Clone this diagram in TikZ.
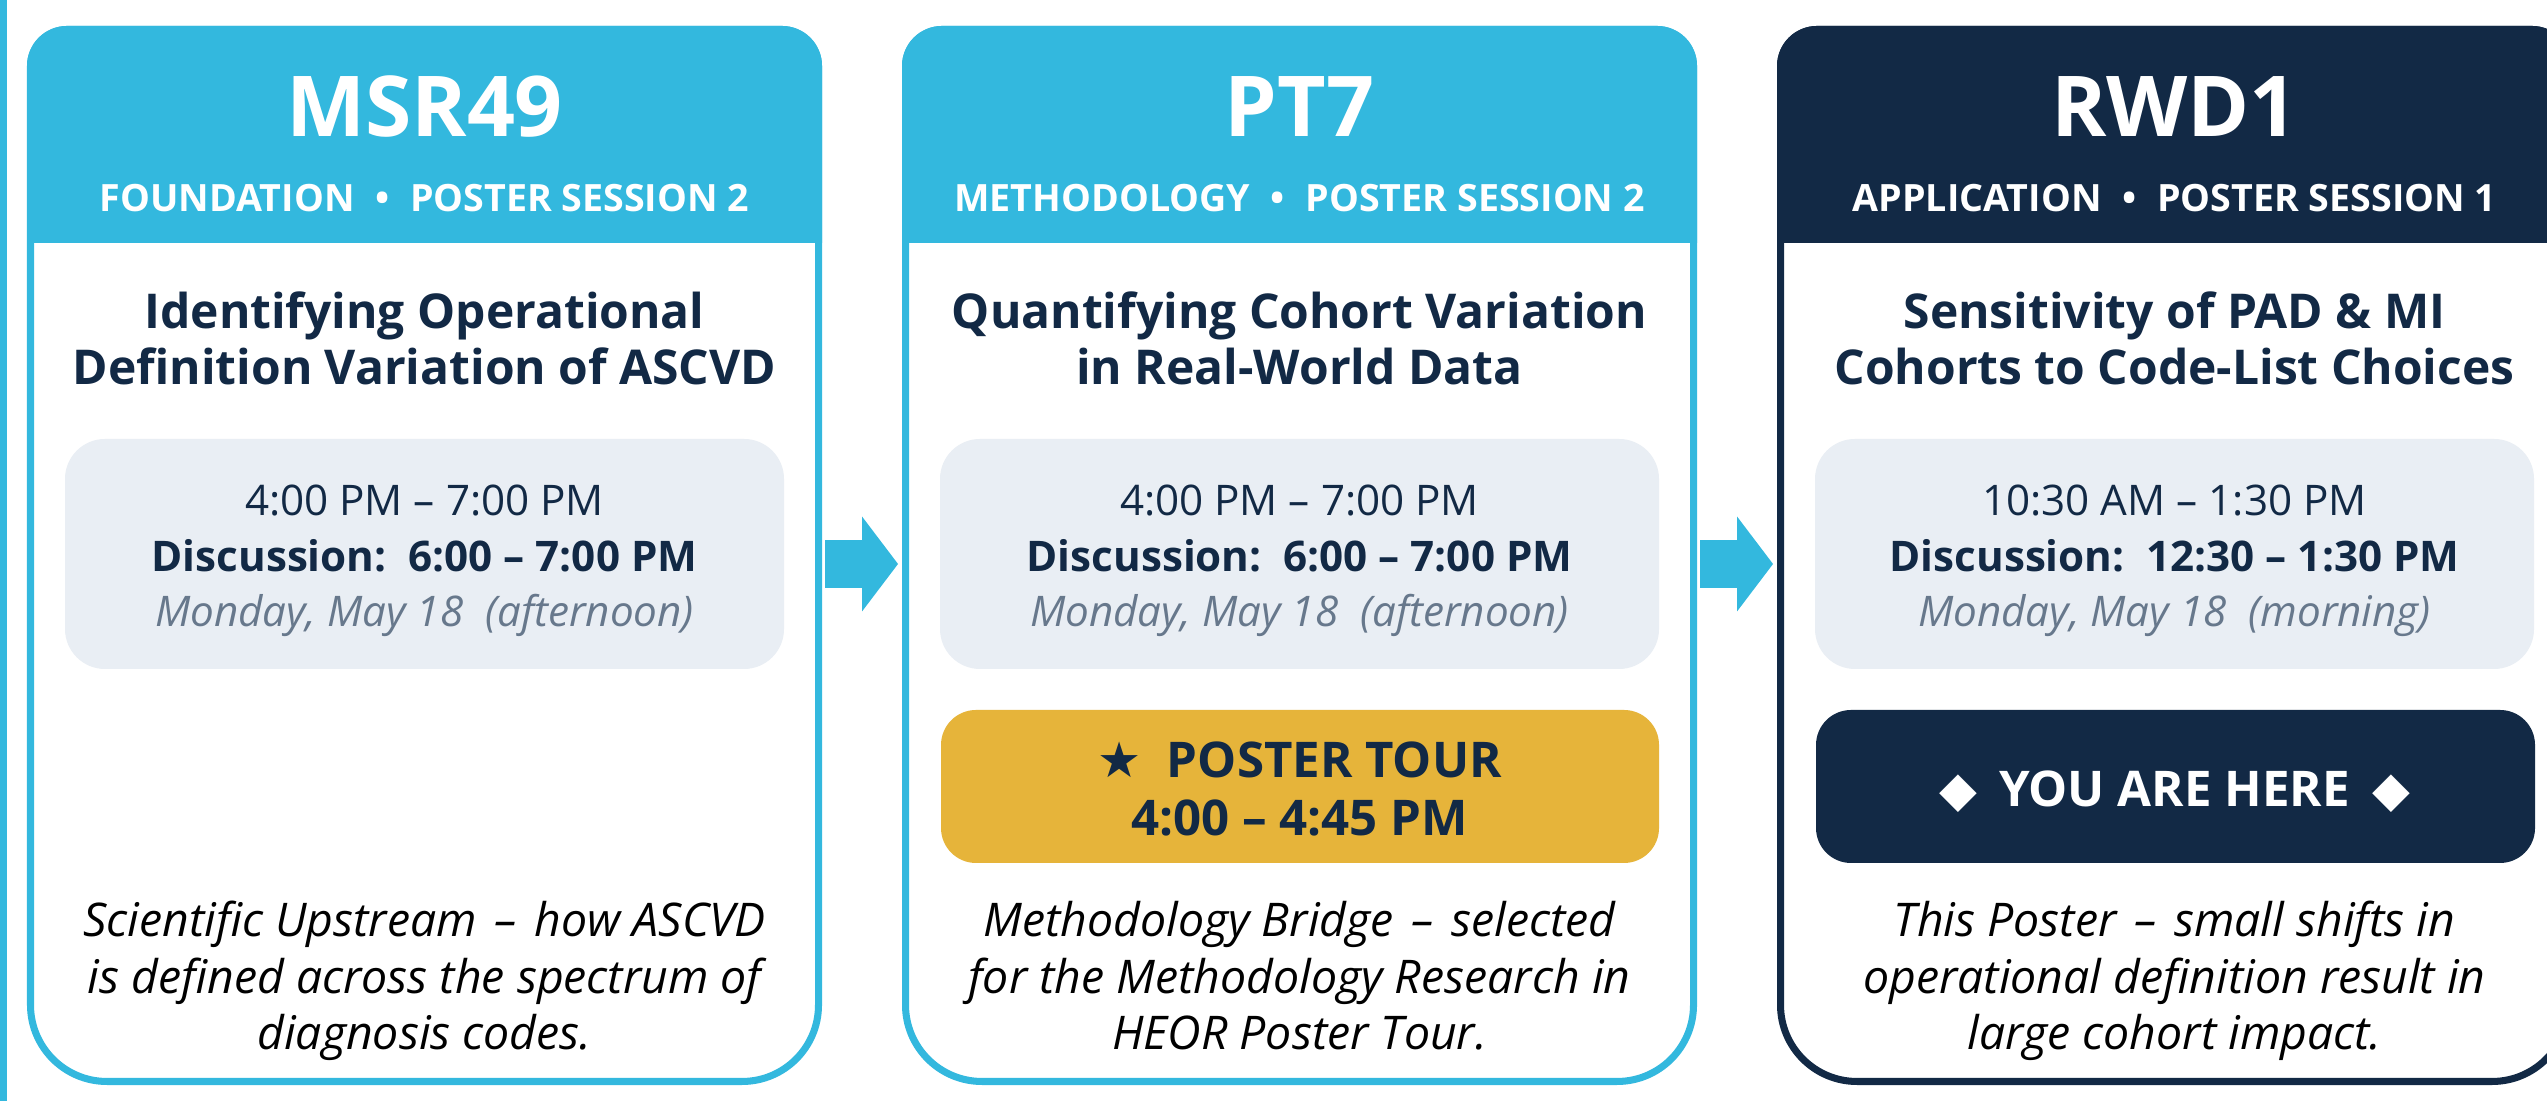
\documentclass[tikz,border=0pt]{standalone}
\usepackage{fontspec}
\setmainfont{Open Sans}
\newfontfamily\symfont{DejaVu Sans}
\usetikzlibrary{arrows.meta}

\definecolor{hdrBlue}{HTML}{33B8DE}
\definecolor{navyDark}{HTML}{122945}
\definecolor{tourGold}{HTML}{E6B43A}
\definecolor{slotGray}{HTML}{E9EEF4}
\definecolor{dateGray}{HTML}{67788C}
\newcommand{\wdash}{\hspace{0.12em} – \hspace{0.12em}}

% #1 = left edge of the card, #2 = colour of header and frame
\newcommand{\drawCard}[2]{%
  \fill[white] (#1,0.16) rectangle (#1+7.95,10.75);
  \fill[#2] (#1,8.58) -- (#1,10.35) arc[start angle=180,end angle=90,radius=0.4]
    -- (#1+7.55,10.75) arc[start angle=90,end angle=0,radius=0.4] -- (#1+7.95,8.58) -- cycle;
  \draw[#2, line width=2pt] (#1+0.035,8.6) -- (#1+0.035,10.35)
    arc[start angle=180,end angle=90,radius=0.365] -- (#1+7.55,10.715)
    arc[start angle=90,end angle=0,radius=0.365] -- (#1+7.915,0.96)
    arc[start angle=0,end angle=-90,radius=0.765] -- (#1+0.8,0.195)
    arc[start angle=270,end angle=180,radius=0.765] -- cycle;
}

\begin{document}
\begin{tikzpicture}[
  every node/.style={inner sep=0pt, anchor=base, align=center},
  code/.style={text=white, font=\fontsize{23.9}{28}\selectfont\bfseries},
  track/.style={text=white, font=\fontsize{10.7}{13}\selectfont\bfseries},
  posttitle/.style={text=navyDark, font=\fontsize{13.65}{16.2}\selectfont\bfseries},
  slot/.style={text=navyDark, font=\fontsize{12}{15.9}\selectfont},
  note/.style={text=black, font=\fontsize{13.2}{16.1}\selectfont\itshape},
  badge/.style={font=\fontsize{14}{16.5}\selectfont\bfseries},
  flow/.style={hdrBlue, line width=0.48cm, -{Triangle[length=0.36cm, width=0.95cm, line width=0pt]}}
]
  \useasboundingbox (0,0) rectangle (25.47,11.01);
  \clip (0,0) rectangle (25.47,11.01);
  \fill[hdrBlue] (0,0) rectangle (0.07,11.01);

  % MSR49
  \drawCard{0.27}{hdrBlue}
  \fill[slotGray, rounded corners=0.4cm] (0.65,4.32) rectangle (7.84,6.62);
  \node[code] (MSR) at (4.245,9.64) {MSR49};
  \node[track] (MSRtrack) at (4.245,8.89) {FOUNDATION\hspace{0.55em}•\hspace{0.55em}POSTER SESSION 2};
  \node[posttitle] (MSRtitle) at (4.245,7.16) {Identifying Operational\\Definition Variation of ASCVD};
  \node[slot] (MSRslot) at (4.245,4.74) {4:00 PM – 7:00 PM\\\textbf{Discussion:\ \ 6:00 – 7:00 PM}\\\textcolor{dateGray}{\itshape Monday, May 18\ \ (afternoon)}};
  \node[note] (MSRnote) at (4.245,0.51) {Scientific Upstream\wdash how ASCVD\\is defined across the spectrum of\\diagnosis codes.};

  % PT7
  \drawCard{9.02}{hdrBlue}
  \fill[slotGray, rounded corners=0.4cm] (9.40,4.32) rectangle (16.59,6.62);
  \fill[tourGold, rounded corners=0.35cm] (9.41,2.38) rectangle (16.59,3.91);
  \node[code] (PT) at (12.995,9.64) {PT7};
  \node[track] (PTtrack) at (12.995,8.89) {METHODOLOGY\hspace{0.55em}•\hspace{0.55em}POSTER SESSION 2};
  \node[posttitle] (PTtitle) at (12.995,7.16) {Quantifying Cohort Variation\\in Real-World Data};
  \node[slot] (PTslot) at (12.995,4.74) {4:00 PM – 7:00 PM\\\textbf{Discussion:\ \ 6:00 – 7:00 PM}\\\textcolor{dateGray}{\itshape Monday, May 18\ \ (afternoon)}};
  \node[badge, text=navyDark] (PTtour) at (12.995,2.65) {{\symfont ★}\ \ POSTER TOUR\\4:00 – 4:45 PM};
  \node[note] (PTnote) at (12.995,0.51) {Methodology Bridge\wdash selected\\for the Methodology Research in\\HEOR Poster Tour.};

  % RWD1
  \drawCard{17.77}{navyDark}
  \fill[slotGray, rounded corners=0.4cm] (18.15,4.32) rectangle (25.34,6.62);
  \fill[navyDark, rounded corners=0.35cm] (18.16,2.38) rectangle (25.35,3.91);
  \node[code] (RWD) at (21.745,9.64) {RWD1};
  \node[track] (RWDtrack) at (21.745,8.89) {APPLICATION\hspace{0.55em}•\hspace{0.55em}POSTER SESSION 1};
  \node[posttitle] (RWDtitle) at (21.745,7.16) {Sensitivity of PAD \& MI\\Cohorts to Code-List Choices};
  \node[slot] (RWDslot) at (21.745,4.74) {10:30 AM – 1:30 PM\\\textbf{Discussion:\ \ 12:30 – 1:30 PM}\\\textcolor{dateGray}{\itshape Monday, May 18\ \ (morning)}};
  \node[badge, text=white] (RWDhere) at (21.745,2.94) {{\symfont ◆}\hspace{0.45em}YOU ARE HERE\hspace{0.45em}{\symfont ◆}};
  \node[note] (RWDnote) at (21.745,0.51) {This Poster\wdash small shifts in\\operational definition result in\\large cohort impact.};

  \coordinate (MSRout) at (8.25,5.37);
  \coordinate (PTin) at (8.98,5.37);
  \coordinate (PTout) at (17.00,5.37);
  \coordinate (RWDin) at (17.73,5.37);
  \draw[flow] (MSRout) -- (PTin);
  \draw[flow] (PTout) -- (RWDin);
\end{tikzpicture}
\end{document}
